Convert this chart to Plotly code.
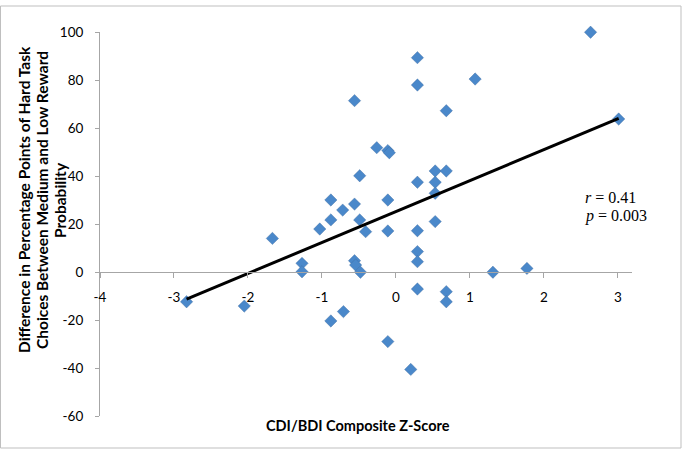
import plotly.graph_objects as go

# Data
z_score = [-2.83, -2.05, -1.67, -1.27, -1.27, -1.03, -0.88, -0.88, -0.88, -0.72,
           -0.71, -0.56, -0.56, -0.56, -0.545, -0.49, -0.49, -0.48, -0.41, -0.26,
           -0.11, -0.09, -0.11, -0.11, -0.11, 0.20, 0.29, 0.29, 0.29, 0.29,
           0.29, 0.29, 0.29, 0.53, 0.53, 0.53, 0.53, 0.68, 0.68, 0.68,
           0.68, 1.07, 1.31, 1.77, 2.63, 3.01]
diff_pct = [-12.4, -14.2, 14.0, 3.6, 0.1, 17.9, 30.0, 21.7, -20.4, 25.8,
            -16.5, 71.4, 28.3, 4.7, 2.9, 40.1, 21.7, -0.1, 16.8, 51.8,
            50.6, 49.7, 30.0, 17.1, -29.0, -40.6, 89.3, 77.9, 37.4, 17.2,
            8.5, 4.3, -7.1, 42.1, 37.4, 32.8, 21.0, 67.2, 42.1, -8.2,
            -12.4, 80.4, -0.1, 1.5, 99.9, 63.75]

trend_slope = 12.9
trend_intercept = 25.2

x_ticks = [-4, -3, -2, -1, 0, 1, 2, 3]
y_ticks = [-60, -40, -20, 0, 20, 40, 60, 80, 100]

trend_x = [min(z_score), max(z_score)]
trend_y = [trend_intercept + trend_slope * v for v in trend_x]

W, H = 687, 452
L, R, T, B = 100, 55, 32, 36
pw, ph = W - L - R, H - T - B

def px(xp):
    return (xp - L) / pw

def py(yp):
    return (H - B - yp) / ph

fig = go.Figure()
fig.add_trace(go.Scatter(
    x=z_score, y=diff_pct, mode="markers", cliponaxis=False,
    marker=dict(symbol="diamond", size=9.5, color="#4A88CA",
                line=dict(width=0.6, color="rgba(60,100,150,0.6)")),
    showlegend=False, hoverinfo="x+y"))
fig.add_trace(go.Scatter(
    x=trend_x, y=trend_y, mode="lines", cliponaxis=False,
    line=dict(color="black", width=3), showlegend=False))

tickfont = dict(family="Lato, Open Sans, sans-serif", size=13.5, color="#000000")
axcolor = "#A6A6A6"

fig.update_layout(
    width=W, height=H,
    margin=dict(l=L, r=R, t=T, b=B),
    paper_bgcolor="white", plot_bgcolor="white",
    xaxis=dict(range=[-4, 3.19], tickvals=x_ticks, ticktext=[str(v) for v in x_ticks],
               anchor="free", position=0.375, showline=True, linecolor=axcolor, linewidth=1,
               ticks="outside", ticklen=5, tickcolor=axcolor, showgrid=False, zeroline=False,
               tickfont=tickfont, ticklabelstandoff=8),
    yaxis=dict(range=[-60, 100], tickvals=y_ticks, ticktext=[str(v) for v in y_ticks],
               showline=True, linecolor=axcolor, linewidth=1,
               ticks="outside", ticklen=4, tickcolor=axcolor, showgrid=False, zeroline=False,
               tickfont=tickfont, ticklabelstandoff=9),
    shapes=[dict(type="rect", xref="paper", yref="paper",
                 x0=px(0.5), x1=px(681), y0=py(448), y1=py(6),
                 line=dict(color="#BFBFBF", width=1))],
)

titlefont = dict(family="Lato, Open Sans, sans-serif", size=14.5, color="#000000", weight="bold")
ytitlefont = dict(family="Lato, Open Sans, sans-serif", size=15.5, color="#000000", weight="bold")
ytitle_lines = ["Difference in Percentage Points of Hard Task",
                "Choices Between Medium and Low Reward",
                "Probability"]
for i, line in enumerate(ytitle_lines):
    fig.add_annotation(text=line, xref="paper", yref="paper",
                       x=px(24 + 18 * i), y=py(200), textangle=-90,
                       showarrow=False, font=ytitlefont, xanchor="center", yanchor="middle")

fig.add_annotation(text="CDI/BDI Composite Z-Score", xref="paper", yref="paper",
                   x=px(358), y=py(425), showarrow=False, font=titlefont,
                   xanchor="center", yanchor="middle")

statfont = dict(family="Liberation Serif, Times New Roman, serif", size=16, color="#000000")
fig.add_annotation(text="<i>r</i> = 0.41", xref="paper", yref="paper",
                   x=px(583), y=py(197), showarrow=False, font=statfont,
                   xanchor="left", yanchor="middle")
fig.add_annotation(text="<i>p</i> = 0.003", xref="paper", yref="paper",
                   x=px(583), y=py(216), showarrow=False, font=statfont,
                   xanchor="left", yanchor="middle")

fig.write_html("out.html")
